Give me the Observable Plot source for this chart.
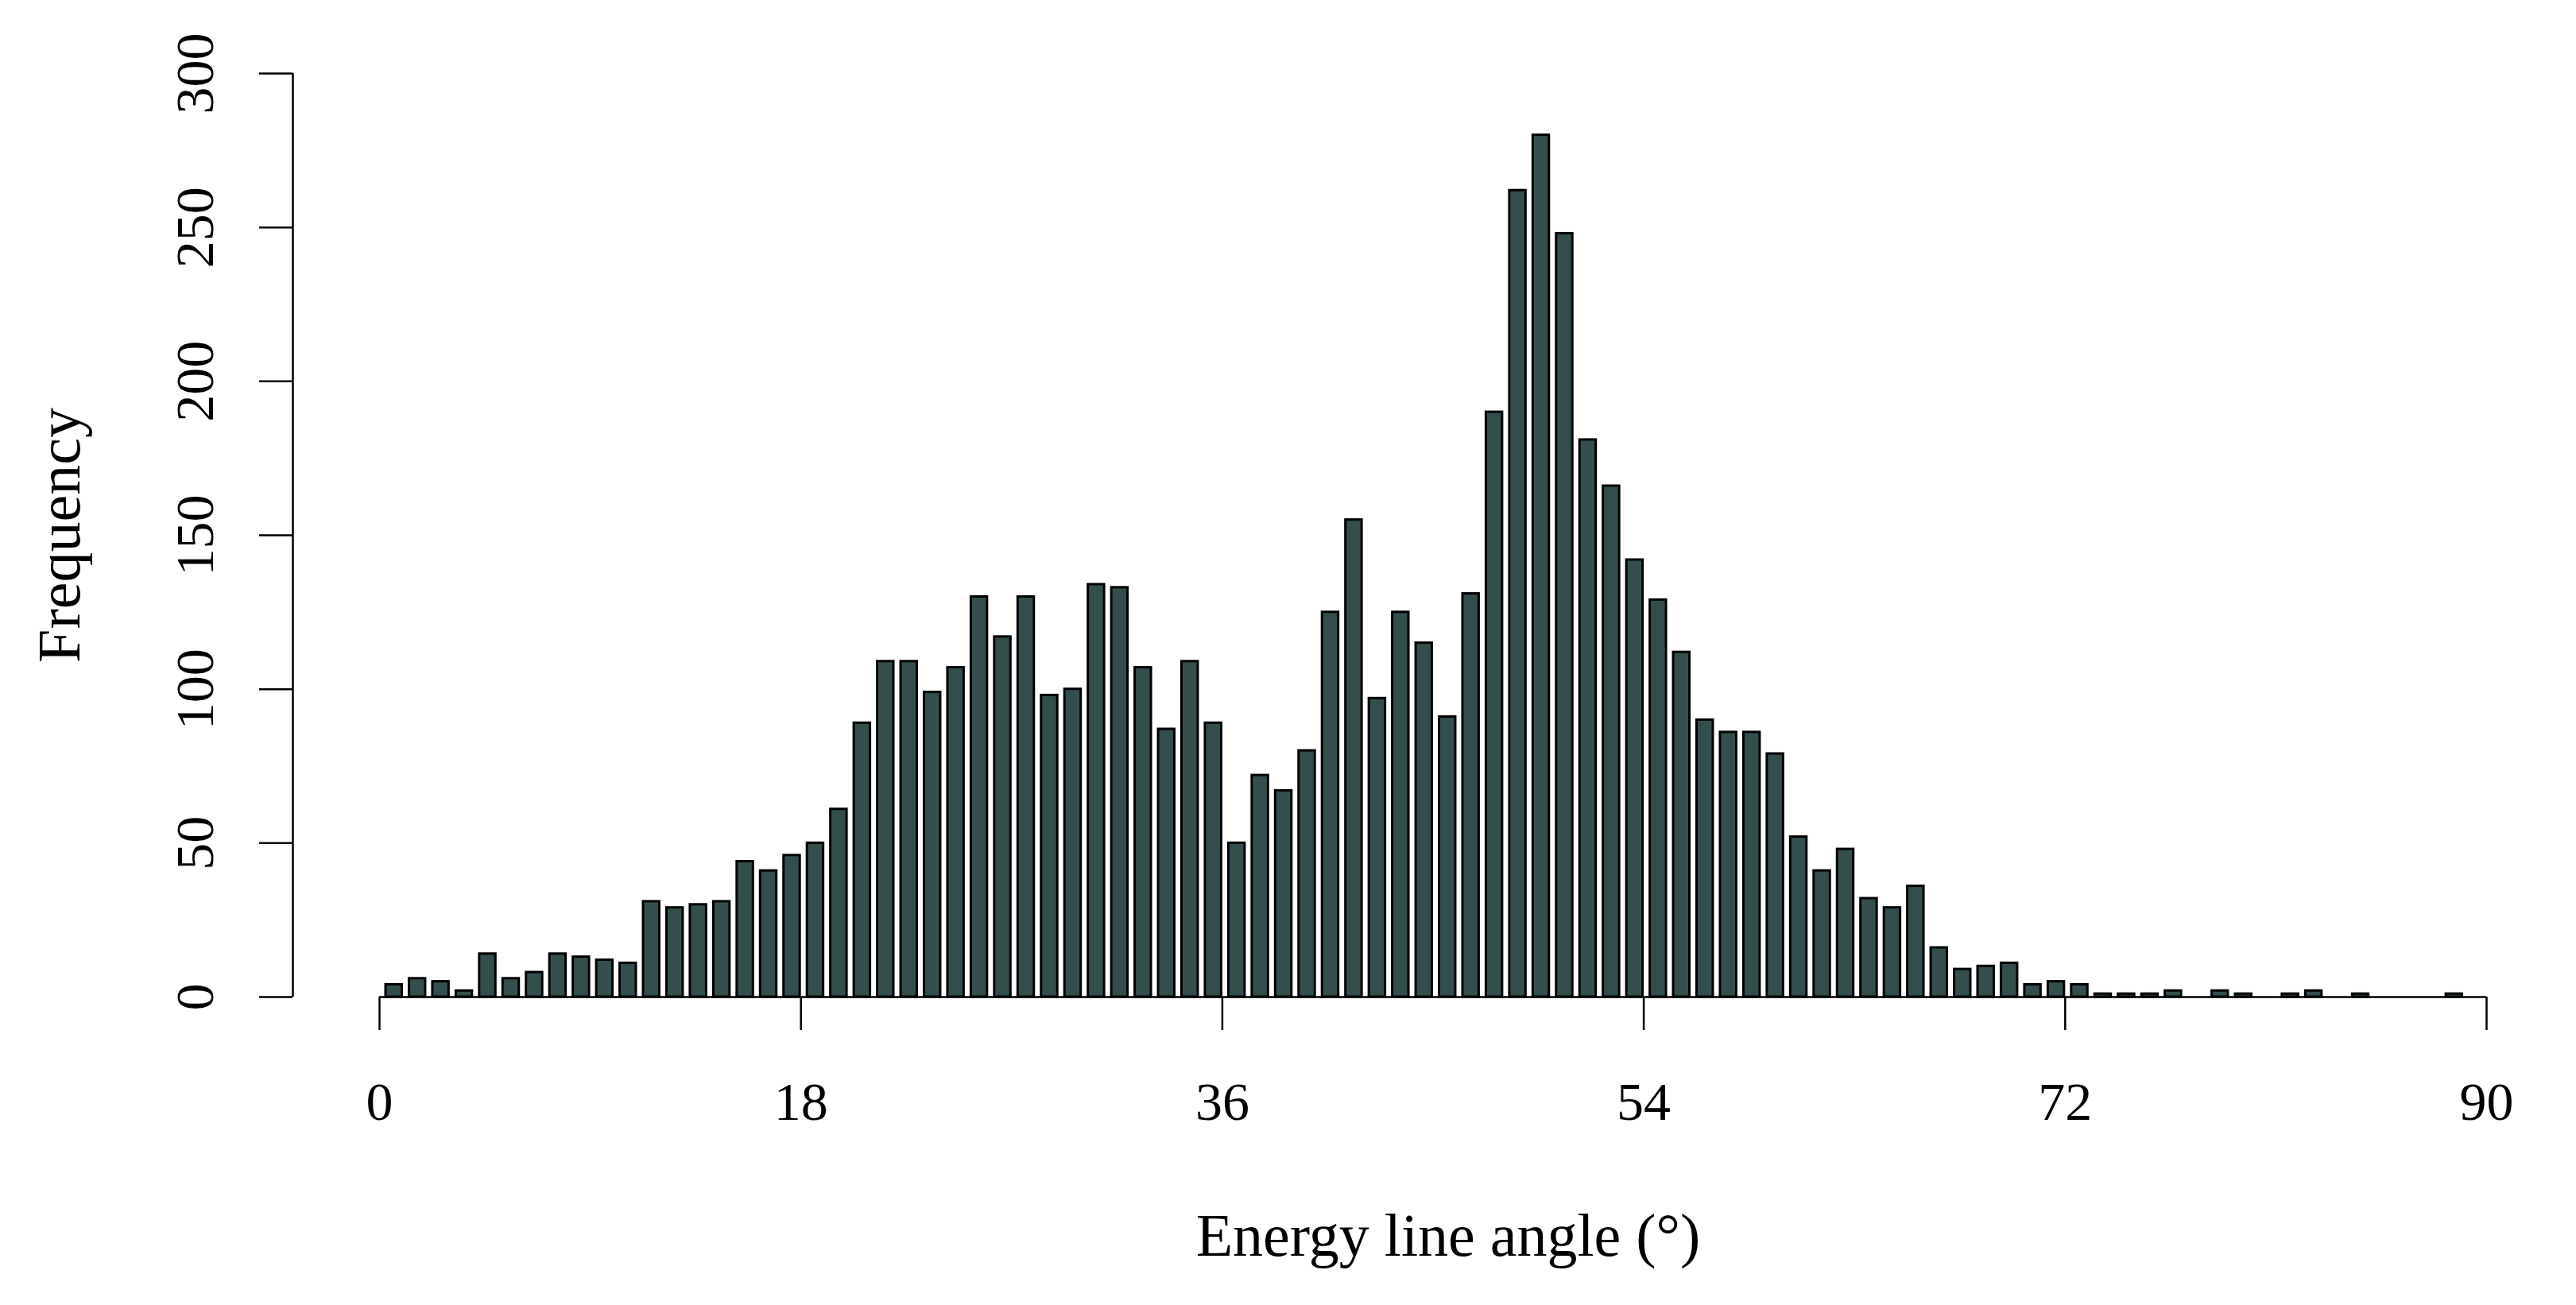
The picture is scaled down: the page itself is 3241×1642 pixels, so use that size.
<!DOCTYPE html>
<html>
<head>
<meta charset="utf-8">
<script src="https://cdn.jsdelivr.net/npm/d3@7"></script>
<script src="https://cdn.jsdelivr.net/npm/@observablehq/plot@0.6"></script>
<style>
  html, body { margin: 0; padding: 0; background: #ffffff; overflow: hidden; }
</style>
</head>
<body>
<div id="chart"></div>
<script>
// Bin start angles (degrees), 1-degree bins
const binStart = [
  0, 1, 2, 3, 4, 5, 6, 7, 8, 9,
  10, 11, 12, 13, 14, 15, 16, 17, 18, 19,
  20, 21, 22, 23, 24, 25, 26, 27, 28, 29,
  30, 31, 32, 33, 34, 35, 36, 37, 38, 39,
  40, 41, 42, 43, 44, 45, 46, 47, 48, 49,
  50, 51, 52, 53, 54, 55, 56, 57, 58, 59,
  60, 61, 62, 63, 64, 65, 66, 67, 68, 69,
  70, 71, 72, 73, 74, 75, 76, 77, 78, 79,
  80, 81, 82, 83, 84, 85, 86, 87, 88, 89
];
// Frequency per bin
const frequency = [
  4, 6, 5, 2, 14, 6, 8, 14, 13, 12,
  11, 31, 29, 30, 31, 44, 41, 46, 50, 61,
  89, 109, 109, 99, 107, 130, 117, 130, 98, 100,
  134, 133, 107, 87, 109, 89, 50, 72, 67, 80,
  125, 155, 97, 125, 115, 91, 131, 190, 262, 280,
  248, 181, 166, 142, 129, 112, 90, 86, 86, 79,
  52, 41, 48, 32, 29, 36, 16, 9, 10, 11,
  4, 5, 4, 1, 1, 1, 2, 0, 2, 1,
  0, 1, 2, 0, 1, 0, 0, 0, 1, 0
];
const binWidth = 1;
const xTicks = [0, 18, 36, 54, 72, 90];
const yTicks = [0, 50, 100, 150, 200, 250, 300];
const xLabel = "Energy line angle (°)";
const yLabel = "Frequency";

const data = binStart.map((b, i) => ({ x1: b, x2: b + binWidth, y: frequency[i] }));

const font = "'Liberation Serif', 'Times New Roman', Times, serif";

const chart = Plot.plot({
  width: 3241,
  height: 1642,
  marginLeft: 477,
  marginRight: 113,
  marginTop: 92,
  marginBottom: 388,
  style: { fontFamily: font, background: "#ffffff", color: "#000000", overflow: "visible" },
  x: { domain: [0, 90] },
  y: { domain: [0, 300] },
  marks: [
    Plot.rectY(data, {
      x1: "x1", x2: "x2", y: "y",
      fill: "#344e4e", stroke: "#000000", strokeWidth: 3,
      insetLeft: 8, insetRight: 1
    }),
    Plot.ruleY([0], { stroke: "#000000", strokeWidth: 2.5 }),
    Plot.ruleX([0], { dx: -109, stroke: "#000000", strokeWidth: 2.5 }),
    Plot.axisX({
      ticks: xTicks, tickSize: 42, tickPadding: 64, fontSize: 68,
      strokeWidth: 2.5, label: null, tickFormat: d => String(d)
    }),
    Plot.axisY({
      ticks: yTicks, dx: -109, tickSize: 42, tickPadding: 59, tickRotate: -90,
      textAnchor: "middle", lineAnchor: "bottom",
      fontSize: 68, strokeWidth: 2.5, label: null, tickFormat: d => String(d)
    }),
    Plot.text([xLabel], {
      frameAnchor: "bottom", dy: 325, dx: 19, fontSize: 76, lineAnchor: "bottom",
      textAnchor: "middle", fill: "#000000"
    }),
    Plot.text([yLabel], {
      frameAnchor: "left", dx: -378, rotate: -90, fontSize: 76, lineAnchor: "bottom",
      textAnchor: "middle", fill: "#000000"
    })
  ]
});

document.getElementById("chart").appendChild(chart);
</script>
</body>
</html>
